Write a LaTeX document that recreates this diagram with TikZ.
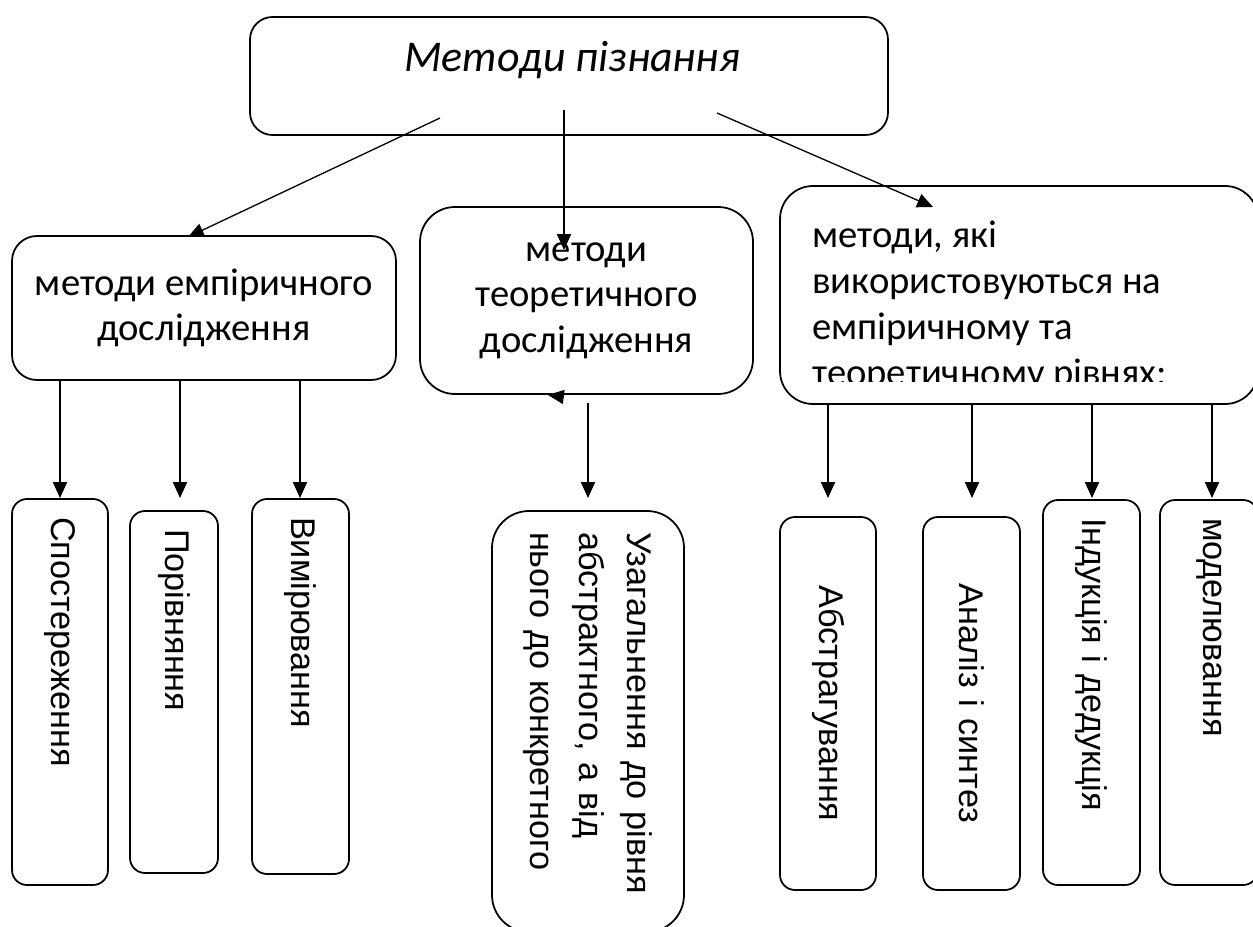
\documentclass[tikz,border=0pt]{standalone}
\usepackage{fontspec}
\setmainfont{Carlito}
\newfontfamily\vertfont{Liberation Sans}
\usetikzlibrary{arrows.meta}

\tikzset{
  box/.style={draw, line width=1pt, inner sep=0pt},
  vbox/.style={draw, line width=1pt, rounded corners=0.3cm, rotate=-90, inner xsep=0.36cm, inner ysep=0pt,
    font=\vertfont\fontsize{19.5}{27.6}\selectfont},
  arr/.style={line width=0.75pt, -{Triangle[length=9pt,width=8pt]}}
}

\begin{document}
\begin{tikzpicture}[font=\fontsize{22}{26}\selectfont]
\useasboundingbox (0,0) rectangle (25.06,18.52);

% top
\node[box, rounded corners=0.45cm, minimum width=12.76cm, minimum height=2.36cm] (top) at (11.38,17.00) {};
\node[font=\itshape\fontsize{25}{30}\selectfont] (title) at (11.44,17.32) {Методи пізнання};

% second row
\node[box, rounded corners=0.5cm, minimum width=7.68cm, minimum height=2.88cm, align=center] (emp) at (4.08,12.36) {методи емпіричного\\дослідження};
\node[box, rounded corners=0.7cm, minimum width=6.66cm, minimum height=3.74cm, align=center] (teor) at (11.73,12.51) {методи\\теоретичного\\дослідження};
\node[box, rounded corners=0.66cm, minimum width=9.56cm, minimum height=4.36cm] (both) at (20.38,12.62) {};
\begin{scope}
\clip (15.6,10.90) rectangle (25.06,14.4);
\node[anchor=north west, inner sep=0pt, align=left] (bothtext) at (16.24,14.10) {методи, які\\використовуються на\\емпіричному та\\теоретичному рівнях;};
\end{scope}

% third row
\node[vbox, minimum width=7.72cm, minimum height=1.92cm, text width=7.0cm, align=left] (spost) at (1.20,4.68) {Спостереження};
\node[vbox, minimum width=7.24cm, minimum height=1.76cm, text width=6.52cm, align=left] (porivn) at (3.48,4.68) {Порівняння};
\node[vbox, minimum width=7.50cm, minimum height=1.94cm, text width=6.78cm, align=left] (vymir) at (6.01,4.79) {Вимірювання};
\node[vbox, rounded corners=0.74cm, inner xsep=0.42cm, minimum width=8.42cm, minimum height=3.84cm, text width=7.58cm, align=left] (uzag) at (11.76,4.09) {Узагальнення до рівня\\абстрактного, а від\\нього до конкретного};
\node[vbox, minimum width=7.46cm, minimum height=1.92cm, text width=6.74cm, align=center] (abstr) at (16.56,4.45) {Абстрагування};
\node[vbox, minimum width=7.46cm, minimum height=1.94cm, text width=6.74cm, align=center] (analiz) at (19.43,4.45) {Аналіз і синтез};
\node[vbox, minimum width=7.70cm, minimum height=1.94cm, text width=6.98cm, align=left] (indukc) at (21.83,4.67) {Індукція і дедукція};
\node[vbox, minimum width=7.70cm, minimum height=1.96cm, text width=6.98cm, align=left] (model) at (24.18,4.67) {моделювання};

% arrows from the top
\coordinate (t1) at (8.80,16.16);
\coordinate (e1) at (3.76,13.78);
\coordinate (t2) at (11.28,16.32);
\coordinate (m1) at (11.28,13.52);
\coordinate (t3) at (14.34,16.26);
\coordinate (b1) at (18.66,14.38);
\draw[arr] (t1) -- (e1);
\draw[arr] (t2) -- (m1);
\draw[arr] (t3) -- (b1);

% arrows to the third row
\foreach \x in {1.2,3.6,6.0}
  \draw[arr] (\x,0 |- emp.south) -- (\x,8.56);
\coordinate (m2) at (11.76,10.46);
\coordinate (u1) at (11.76,8.56);
\draw[arr] (m2) -- (u1);
\foreach \x in {16.56,19.44,21.84,24.24}
  \draw[arr] (\x,0 |- both.south) -- (\x,8.56);

% stray head under the middle box
\coordinate (s1) at (11.28,10.58);
\coordinate (s2) at (10.96,10.62);
\draw[arr] (s1) -- (s2);
\end{tikzpicture}
\end{document}
